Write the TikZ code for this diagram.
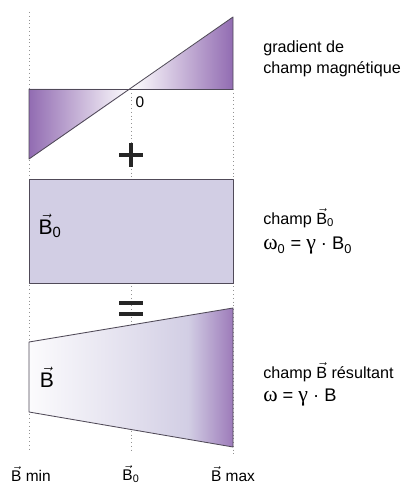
\documentclass[tikz,border=0pt]{standalone}
\usepackage{amsmath}
\usepackage{fontspec}
\setmainfont{Liberation Sans}
\newfontfamily\greekfont{Liberation Serif}
\definecolor{fieldpurple}{RGB}{146,108,178}
\definecolor{fieldlavender}{RGB}{210,206,228}
\definecolor{edgegray}{RGB}{80,74,88}
\usetikzlibrary{positioning,calc}
\pgfdeclarehorizontalshading{fieldramp}{100bp}{color(0bp)=(white!92!fieldlavender); color(25bp)=(white!92!fieldlavender);
    color(50bp)=(fieldlavender!65); color(64bp)=(fieldlavender); color(75bp)=(fieldpurple!90); color(100bp)=(fieldpurple!90)}
\newcommand{\vB}{\ensuremath{\vec{\text{B}}}}
\newcommand{\vBzero}{\ensuremath{\vec{\text{B}}_{\text{0}}}}
\newcommand{\gk}[1]{{\greekfont\fontsize{15.5}{17}\selectfont #1}}

\begin{document}
\begin{tikzpicture}[x=0.025cm, y=-0.025cm,
    shapeline/.style={draw=edgegray, line width=0.6pt, line join=round},
    guide/.style={draw=gray!85, dotted, line width=0.7pt},
    sidelabel/.style={anchor=west, font=\fontsize{11.5}{13}\selectfont, inner sep=0pt},
    formula/.style={anchor=west, font=\fontsize{13}{15}\selectfont, inner sep=0pt},
    axislabel/.style={font=\fontsize{11}{13}\selectfont, inner sep=0pt},
    fieldlabel/.style={font=\fontsize{15}{18}\selectfont, inner sep=0pt},
    operator/.style={draw=black!85, line width=2.2pt}]

    \useasboundingbox (0,0) rectangle (404,486);

    % Guide points
    \coordinate (bmin top) at (29,12);
    \coordinate (bmin bottom) at (29,452);
    \coordinate (bzero top) at (131,89);
    \coordinate (bzero bottom) at (131,450);
    \coordinate (bmax top) at (233,89);
    \coordinate (bmax bottom) at (233,455);

    % Dotted guides
    \draw[guide] (bmin top) -- (bmin bottom);
    \draw[guide] (bzero top) -- (bzero bottom);
    \draw[guide] (bmax top) -- (bmax bottom);

    % Gradient triangles
    \shade[left color=fieldpurple, right color=white] (29,89) -- (131,89) -- (29,159) -- cycle;
    \shade[left color=white, right color=fieldpurple] (131,89) -- (233,17) -- (233,89) -- cycle;
    \draw[shapeline] (29,89) -- (233,89);
    \draw[shapeline] (29,89) -- (29,159) -- (233,17) -- (233,89);
    \node[axislabel] (zero) at (140,102) {0};

    % Plus
    \draw[operator] (119,155) -- (143,155);
    \draw[operator] (131,143) -- (131,167);

    % Static field
    \draw[shapeline, fill=fieldlavender] (29,179) rectangle (233,283);
    \node[fieldlabel] (bzero field) at (50,226) {\vBzero};

    % Equals
    \draw[operator] (119,303) -- (143,303);
    \draw[operator] (119,314) -- (143,314);

    % Resulting field
    \shade[shading=fieldramp] (29,342) -- (233,308) -- (233,447) -- (29,412) -- cycle;
    \draw[shapeline] (29,342) -- (233,308) -- (233,447) -- (29,412) -- cycle;
    \node[fieldlabel] (b field) at (47,377) {\vB};

    % Right-hand texts
    \node[sidelabel] (gradient) at (263,48) {gradient de};
    \node[sidelabel] (magnetic) at (263,69) {champ magnétique};
    \node[sidelabel] (static) at (263,218) {champ \vBzero};
    \node[formula] (larmor zero) at (263,246) {\gk{ω}\textsubscript{0} = \gk{γ} · B\textsubscript{0}};
    \node[sidelabel] (result) at (263,372) {champ \vB{} résultant};
    \node[formula] (larmor) at (263,398) {\gk{ω} = \gk{γ} · B};

    % Axis labels
    \node[axislabel] (bmin label) at (31,474) {\vB{} min};
    \node[axislabel] (bzero label) at (131,474) {\vBzero};
    \node[axislabel] (bmax label) at (233,474) {\vB{} max};
\end{tikzpicture}
\end{document}
